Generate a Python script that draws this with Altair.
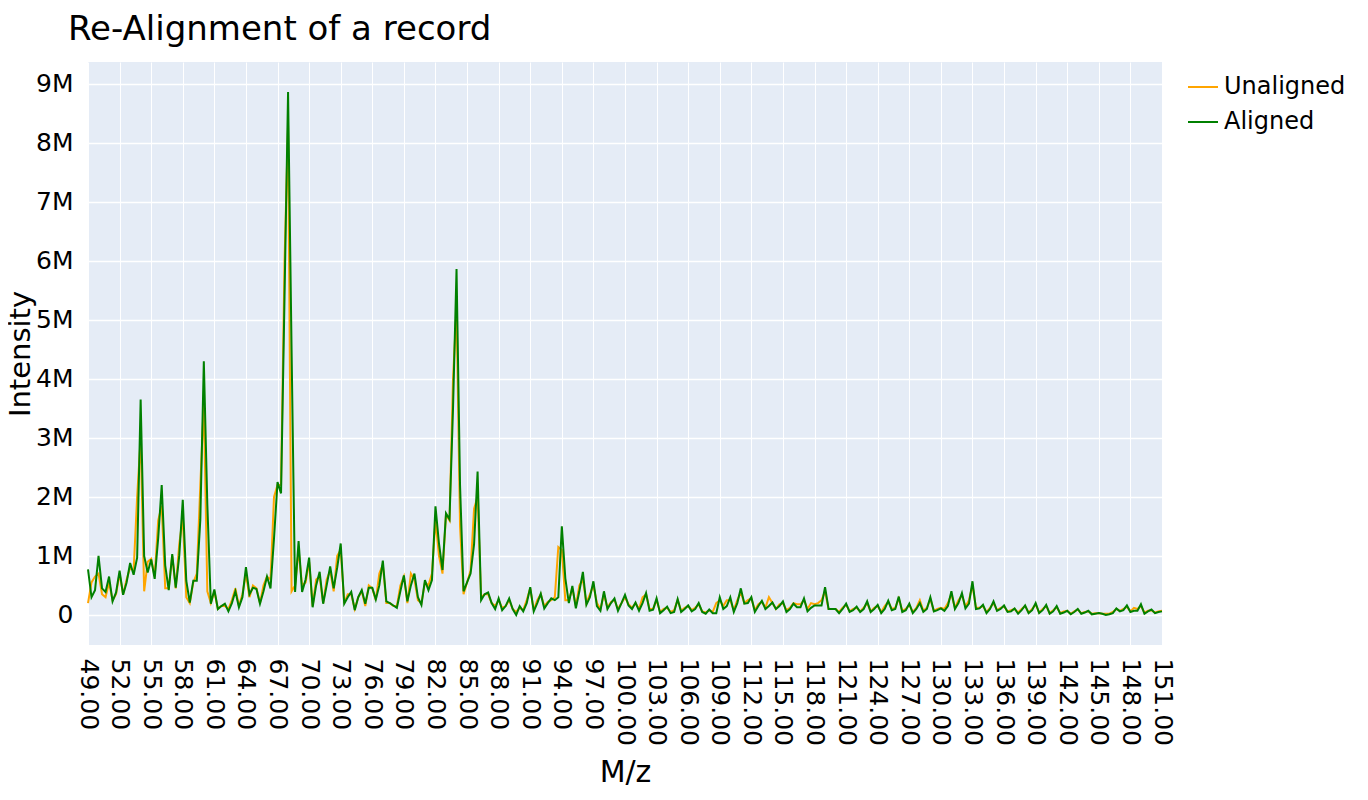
import altair as alt
import pandas as pd

# m/z sampling grid: three samples per unit from 49 to 151
MZ_START = 49
MZ_PER_UNIT = 3

# Intensity in millions, three samples per m/z unit (n, n+1/3, n+2/3)
ALIGNED = [
    0.77, 0.30, 0.42,   # 49
    1.00, 0.45, 0.39,   # 50
    0.65, 0.23, 0.38,   # 51
    0.75, 0.34, 0.55,   # 52
    0.88, 0.68, 0.97,   # 53
    3.65, 1.00, 0.72,   # 54
    0.94, 0.61, 1.30,   # 55
    2.20, 0.84, 0.42,   # 56
    1.03, 0.46, 1.00,   # 57
    1.95, 0.58, 0.21,   # 58
    0.58, 0.58, 1.61,   # 59
    4.30, 1.87, 0.19,   # 60
    0.43, 0.10, 0.15,   # 61
    0.19, 0.06, 0.20,   # 62
    0.40, 0.13, 0.30,   # 63
    0.81, 0.35, 0.46,   # 64
    0.44, 0.19, 0.40,   # 65
    0.65, 0.45, 1.30,   # 66
    2.25, 2.06, 5.40,   # 67
    8.86, 4.50, 0.39,   # 68
    1.25, 0.39, 0.60,   # 69
    0.97, 0.13, 0.50,   # 70
    0.73, 0.19, 0.50,   # 71
    0.82, 0.45, 0.80,   # 72
    1.21, 0.19, 0.30,   # 73
    0.39, 0.08, 0.30,   # 74
    0.42, 0.19, 0.46,   # 75
    0.46, 0.26, 0.50,   # 76
    0.92, 0.23, 0.20,   # 77
    0.16, 0.12, 0.40,   # 78
    0.67, 0.23, 0.50,   # 79
    0.70, 0.30, 0.17,   # 80
    0.59, 0.42, 0.59,   # 81
    1.84, 1.21, 0.76,   # 82
    1.72, 1.62, 3.50,   # 83
    5.86, 2.20, 0.40,   # 84
    0.55, 0.70, 1.20,   # 85
    2.43, 0.25, 0.35,   # 86
    0.38, 0.20, 0.10,   # 87
    0.28, 0.08, 0.15,   # 88
    0.28, 0.10, 0.00,   # 89
    0.15, 0.06, 0.20,   # 90
    0.47, 0.06, 0.20,   # 91
    0.36, 0.11, 0.20,   # 92
    0.28, 0.25, 0.30,   # 93
    1.50, 0.62, 0.20,   # 94
    0.49, 0.11, 0.40,   # 95
    0.73, 0.17, 0.30,   # 96
    0.57, 0.15, 0.07,   # 97
    0.40, 0.10, 0.20,   # 98
    0.28, 0.07, 0.20,   # 99
    0.34, 0.16, 0.10,   # 100
    0.21, 0.07, 0.20,   # 101
    0.37, 0.07, 0.09,   # 102
    0.28, 0.03, 0.08,   # 103
    0.14, 0.03, 0.05,   # 104
    0.27, 0.05, 0.10,   # 105
    0.16, 0.06, 0.10,   # 106
    0.20, 0.05, 0.02,   # 107
    0.09, 0.03, 0.03,   # 108
    0.30, 0.10, 0.15,   # 109
    0.30, 0.05, 0.20,   # 110
    0.45, 0.19, 0.20,   # 111
    0.30, 0.05, 0.15,   # 112
    0.24, 0.10, 0.15,   # 113
    0.21, 0.10, 0.15,   # 114
    0.23, 0.05, 0.10,   # 115
    0.19, 0.13, 0.13,   # 116
    0.28, 0.06, 0.12,   # 117
    0.16, 0.16, 0.16,   # 118
    0.47, 0.10, 0.10,   # 119
    0.10, 0.03, 0.10,   # 120
    0.19, 0.05, 0.08,   # 121
    0.14, 0.05, 0.10,   # 122
    0.23, 0.05, 0.10,   # 123
    0.17, 0.03, 0.10,   # 124
    0.24, 0.08, 0.10,   # 125
    0.31, 0.05, 0.08,   # 126
    0.19, 0.03, 0.10,   # 127
    0.20, 0.05, 0.10,   # 128
    0.30, 0.06, 0.08,   # 129
    0.11, 0.07, 0.15,   # 130
    0.40, 0.10, 0.20,   # 131
    0.37, 0.11, 0.19,   # 132
    0.57, 0.10, 0.11,   # 133
    0.17, 0.03, 0.10,   # 134
    0.23, 0.07, 0.10,   # 135
    0.16, 0.05, 0.06,   # 136
    0.11, 0.02, 0.08,   # 137
    0.16, 0.03, 0.08,   # 138
    0.20, 0.03, 0.08,   # 139
    0.17, 0.02, 0.06,   # 140
    0.15, 0.02, 0.04,   # 141
    0.07, 0.01, 0.05,   # 142
    0.10, 0.02, 0.04,   # 143
    0.07, 0.01, 0.02,   # 144
    0.03, 0.02, 0.00,   # 145
    0.01, 0.03, 0.11,   # 146
    0.06, 0.08, 0.16,   # 147
    0.05, 0.07, 0.07,   # 148
    0.18, 0.02, 0.06,   # 149
    0.09, 0.03, 0.05,   # 150
    0.06,               # 151
]

UNALIGNED = [
    0.20, 0.55, 0.65,   # 49
    0.70, 0.35, 0.30,   # 50
    0.55, 0.25, 0.35,   # 51
    0.70, 0.35, 0.60,   # 52
    0.80, 0.75, 2.00,   # 53
    3.00, 0.40, 0.90,   # 54
    0.95, 0.65, 1.60,   # 55
    1.85, 0.45, 0.45,   # 56
    1.00, 0.45, 1.20,   # 57
    1.65, 0.30, 0.20,   # 58
    0.55, 0.70, 2.20,   # 59
    3.60, 0.40, 0.20,   # 60
    0.40, 0.10, 0.15,   # 61
    0.15, 0.10, 0.25,   # 62
    0.45, 0.15, 0.35,   # 63
    0.70, 0.30, 0.50,   # 64
    0.45, 0.20, 0.50,   # 65
    0.65, 0.60, 2.00,   # 66
    2.20, 2.20, 6.00,   # 67
    8.30, 0.40, 0.50,   # 68
    1.10, 0.50, 0.55,   # 69
    0.90, 0.15, 0.60,   # 70
    0.65, 0.20, 0.60,   # 71
    0.75, 0.40, 1.00,   # 72
    1.10, 0.20, 0.35,   # 73
    0.35, 0.10, 0.30,   # 74
    0.40, 0.15, 0.50,   # 75
    0.45, 0.25, 0.70,   # 76
    0.85, 0.20, 0.20,   # 77
    0.15, 0.15, 0.50,   # 78
    0.65, 0.20, 0.70,   # 79
    0.60, 0.25, 0.20,   # 80
    0.55, 0.50, 0.70,   # 81
    1.60, 1.00, 0.70,   # 82
    1.70, 1.60, 4.00,   # 83
    5.20, 1.50, 0.35,   # 84
    0.55, 0.75, 1.80,   # 85
    2.00, 0.30, 0.35,   # 86
    0.35, 0.20, 0.15,   # 87
    0.25, 0.12, 0.15,   # 88
    0.25, 0.10, 0.05,   # 89
    0.12, 0.08, 0.25,   # 90
    0.45, 0.08, 0.25,   # 91
    0.35, 0.15, 0.22,   # 92
    0.25, 0.30, 1.15,   # 93
    1.10, 0.25, 0.25,   # 94
    0.45, 0.15, 0.50,   # 95
    0.60, 0.20, 0.35,   # 96
    0.50, 0.20, 0.10,   # 97
    0.35, 0.12, 0.22,   # 98
    0.25, 0.10, 0.20,   # 99
    0.30, 0.18, 0.12,   # 100
    0.20, 0.10, 0.30,   # 101
    0.35, 0.10, 0.10,   # 102
    0.25, 0.05, 0.10,   # 103
    0.12, 0.05, 0.08,   # 104
    0.25, 0.07, 0.12,   # 105
    0.15, 0.08, 0.12,   # 106
    0.18, 0.06, 0.04,   # 107
    0.08, 0.05, 0.20,   # 108
    0.25, 0.15, 0.25,   # 109
    0.25, 0.08, 0.25,   # 110
    0.38, 0.20, 0.25,   # 111
    0.28, 0.08, 0.18,   # 112
    0.22, 0.12, 0.30,   # 113
    0.20, 0.10, 0.18,   # 114
    0.20, 0.08, 0.12,   # 115
    0.20, 0.18, 0.18,   # 116
    0.25, 0.10, 0.20,   # 117
    0.18, 0.20, 0.25,   # 118
    0.40, 0.10, 0.10,   # 119
    0.10, 0.05, 0.12,   # 120
    0.17, 0.06, 0.10,   # 121
    0.12, 0.06, 0.12,   # 122
    0.20, 0.06, 0.12,   # 123
    0.15, 0.05, 0.15,   # 124
    0.22, 0.10, 0.12,   # 125
    0.28, 0.07, 0.10,   # 126
    0.17, 0.05, 0.12,   # 127
    0.25, 0.07, 0.12,   # 128
    0.27, 0.07, 0.10,   # 129
    0.12, 0.10, 0.20,   # 130
    0.35, 0.12, 0.25,   # 131
    0.33, 0.14, 0.25,   # 132
    0.50, 0.12, 0.12,   # 133
    0.15, 0.05, 0.12,   # 134
    0.20, 0.08, 0.12,   # 135
    0.14, 0.06, 0.08,   # 136
    0.10, 0.04, 0.10,   # 137
    0.15, 0.04, 0.10,   # 138
    0.18, 0.04, 0.10,   # 139
    0.15, 0.03, 0.08,   # 140
    0.13, 0.03, 0.06,   # 141
    0.07, 0.02, 0.06,   # 142
    0.09, 0.03, 0.05,   # 143
    0.06, 0.02, 0.03,   # 144
    0.03, 0.02, 0.02,   # 145
    0.02, 0.05, 0.10,   # 146
    0.07, 0.10, 0.14,   # 147
    0.06, 0.12, 0.10,   # 148
    0.15, 0.04, 0.07,   # 149
    0.08, 0.04, 0.06,   # 150
    0.07,               # 151
]

SERIES = ["Unaligned", "Aligned"]
COLORS = ["orange", "green"]
XTICKS = [49, 52, 55, 58, 61, 64, 67, 70, 73, 76, 79, 82, 85, 88, 91, 94, 97,
          100, 103, 106, 109, 112, 115, 118, 121, 124, 127, 130, 133, 136,
          139, 142, 145, 148, 151]
YTICKS = [0, 1e6, 2e6, 3e6, 4e6, 5e6, 6e6, 7e6, 8e6, 9e6]

mz = [MZ_START + i / MZ_PER_UNIT for i in range(len(ALIGNED))]

def frame(values, name):
    return pd.DataFrame({
        "mz": mz,
        "intensity": [v * 1e6 for v in values],
        "series": name,
    })

df_un = frame(UNALIGNED, "Unaligned")
df_al = frame(ALIGNED, "Aligned")

FONT = "DejaVu Sans"
TEXT = "black"

x_enc = alt.X(
    "mz:Q",
    scale=alt.Scale(domain=[49, 151], nice=False, zero=False),
    axis=alt.Axis(
        values=XTICKS, format=".2f", labelAngle=90, labelAlign="left",
        labelBaseline="middle", labelPadding=13, labelFontSize=25,
        labelFont=FONT, labelColor=TEXT, labelOverlap=False, labelFlush=False,
        title="M/z", titleFontSize=30, titleFont=FONT, titleFontWeight="normal",
        titleColor=TEXT, titlePadding=12,
        grid=True, gridColor="white", gridWidth=1, domain=False, ticks=False,
    ),
)
y_enc = alt.Y(
    "intensity:Q",
    scale=alt.Scale(domain=[-0.51e6, 9.37e6], nice=False, zero=False),
    axis=alt.Axis(
        values=YTICKS,
        labelExpr="datum.value == 0 ? '0' : format(datum.value / 1000000, 'd') + 'M'",
        labelFontSize=25, labelFont=FONT, labelColor=TEXT, labelPadding=15,
        labelFlush=False,
        title="Intensity", titleFontSize=29, titleFont=FONT,
        titleFontWeight="normal", titleColor=TEXT,
        titleX=-59, titleBaseline="alphabetic",
        grid=True, gridColor="white", gridWidth=1.5, domain=False, ticks=False,
    ),
)
color_enc = alt.Color(
    "series:N",
    scale=alt.Scale(domain=SERIES, range=COLORS),
    legend=alt.Legend(
        title=None, orient="none", legendX=1099, legendY=9,
        symbolType="stroke", symbolSize=900, symbolStrokeWidth=2,
        labelFontSize=24, labelFont=FONT, labelColor=TEXT,
        labelOffset=5, rowPadding=7,
    ),
)

line_un = alt.Chart(df_un).mark_line(strokeWidth=2).encode(
    x=x_enc, y=y_enc, color=color_enc)
line_al = alt.Chart(df_al).mark_line(strokeWidth=2).encode(
    x=x_enc, y=y_enc, color=color_enc)

chart = alt.layer(line_un, line_al).properties(
    width=1074, height=583,
    title=alt.TitleParams(
        "Re-Alignment of a record", anchor="start", frame="group",
        fontSize=34, font=FONT, fontWeight="normal", color=TEXT,
        dx=-20, offset=15,
    ),
    autosize=alt.AutoSizeParams(type="none"),
    padding={"left": 80, "top": 54, "right": 190, "bottom": 150},
).configure_view(fill="#E5ECF6", stroke=None)

chart.save("out.html", embed_options={"renderer": "svg", "actions": False})
